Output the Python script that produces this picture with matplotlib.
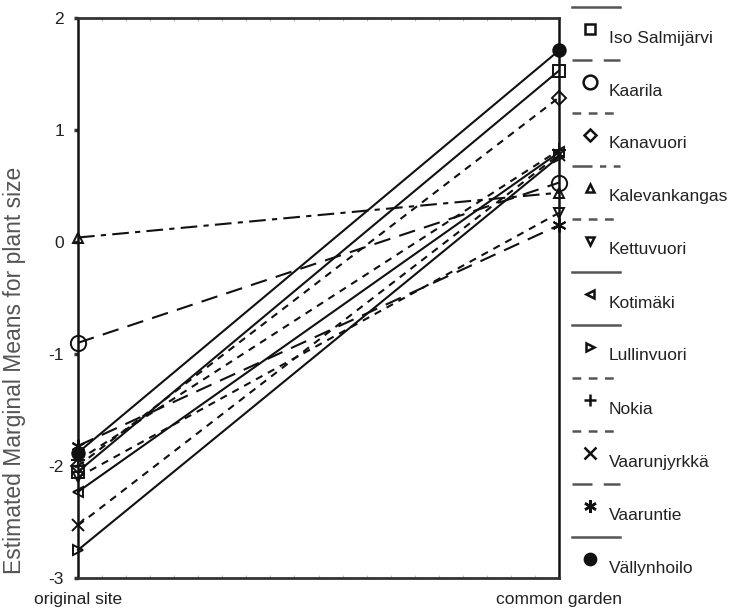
import numpy as np
import matplotlib
matplotlib.use('Agg')
from matplotlib import pyplot as plt

plt.rcParams['font.family'] = ['Liberation Sans', 'DejaVu Sans']

# data
sites = ['original site', 'common garden']
names = ['Iso Salmijärvi', 'Kaarila', 'Kanavuori', 'Kalevankangas', 'Kettuvuori',
         'Kotimäki', 'Lullinvuori', 'Nokia', 'Vaarunjyrkkä', 'Vaaruntie', 'Vällynhoilo']
original = [-2.05, -0.90, -2.00, 0.04, -2.10, -2.23, -2.75, -1.95, -2.53, -1.82, -1.88]
garden = [1.53, 0.53, 1.29, 0.44, 0.26, 0.80, 0.76, 0.82, 0.78, 0.15, 1.71]
yticks = [-3, -2, -1, 0, 1, 2]

# styles
solid = '-'
longdash = (0, (8, 4.5))
shortdash = (0, (3.5, 3))
dashdot = (0, (8, 3, 2.5, 3))
styles = [solid, longdash, shortdash, dashdot, shortdash, solid, solid,
          shortdash, shortdash, longdash, solid]
markers = ['s', 'o', 'D', '^', 'v', '<', '>', '+', 'x', (6, 2, 0), 'o']
msizes = [8, 11, 7, 7, 7, 7, 7, 10, 9, 10, 9]
filled = [False] * 10 + [True]

W, H = 738, 610
fig = plt.figure(figsize=(W / 100, H / 100), dpi=100)
ax = fig.add_axes([78 / W, 1 - 578 / H, (559 - 78) / W, (578 - 18) / H])

xpos = np.arange(len(sites))
for i in range(len(names)):
    y = [original[i], garden[i]]
    ax.plot(xpos, y, color='#111111', lw=1.5, linestyle=styles[i], clip_on=False, zorder=3)
    ax.plot(xpos, y, linestyle='none', marker=markers[i], ms=msizes[i],
            mfc='#111111' if filled[i] else 'none', mec='#111111', mew=1.4,
            clip_on=False, zorder=4)

ax.set_xlim(0, 1)
ax.set_ylim(-3, 2)
ax.set_yticks(yticks)
ax.set_yticklabels([str(v) for v in yticks], fontsize=12.5, color='#222222')
ax.set_xticks(xpos)
ax.set_xticklabels(sites, fontsize=12.5, color='#222222')
ax.tick_params(axis='x', length=0, pad=10)
ax.tick_params(axis='y', length=3, width=2.5, direction='out', pad=7, color='#333333')
ax.set_xticks(np.linspace(0, 1, 21), minor=True)
ax.tick_params(axis='x', which='minor', top=True, bottom=True, length=2, width=0.8,
               direction='in', color='#bbbbbb')

for s in ['left', 'right']:
    ax.spines[s].set_linewidth(1.8)
    ax.spines[s].set_color('#111111')
for s in ['top', 'bottom']:
    ax.spines[s].set_linewidth(2)
    ax.spines[s].set_color('#333333')

ax.set_ylabel('Estimated Marginal Means for plant size', fontsize=16.5, color='#555555')
ax.yaxis.set_label_coords(-0.108, 0.37)

# legend: line sample on one row, marker and label below it
lax = fig.add_axes([0, 0, 1, 1])
lax.set_xlim(0, W)
lax.set_ylim(H, 0)
lax.axis('off')
for i in range(len(names)):
    y0 = 7 + 53 * i
    lax.plot([572, 620], [y0, y0], color='#555555', lw=1.8, linestyle=styles[i])
    lax.plot([590], [y0 + 22], linestyle='none', marker=markers[i], ms=msizes[i] * 0.9,
             mfc='#111111' if filled[i] else 'white', mec='#111111', mew=1.8)
    lax.text(609, y0 + 31, names[i], fontsize=12.5, va='center', ha='left', color='#222222')

fig.savefig('out.png', dpi=100)
